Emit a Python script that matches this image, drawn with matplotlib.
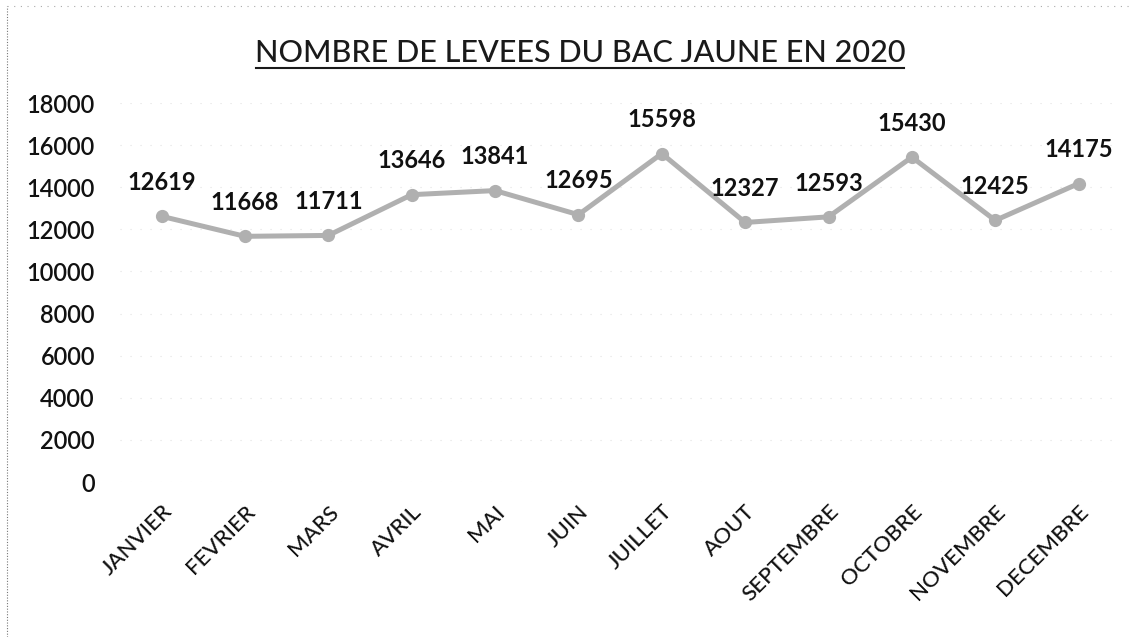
import matplotlib
matplotlib.use("Agg")
import matplotlib.pyplot as plt
from matplotlib.lines import Line2D

# Monthly pickups of the yellow bin in 2020
mois = ["JANVIER", "FEVRIER", "MARS", "AVRIL", "MAI", "JUIN", "JUILLET",
        "AOUT", "SEPTEMBRE", "OCTOBRE", "NOVEMBRE", "DECEMBRE"]
levees = [12619, 11668, 11711, 13646, 13841, 12695, 15598,
          12327, 12593, 15430, 12425, 14175]
y_ticks = [0, 2000, 4000, 6000, 8000, 10000, 12000, 14000, 16000, 18000]

plt.rcParams["font.family"] = ["Lato", "DejaVu Sans"]

fig = plt.figure(figsize=(11.42, 6.37), dpi=100)
ax = fig.add_axes([0.105, 0.2433, 0.876, 0.595])

x = list(range(len(mois)))
ax.plot(x, levees, color="#b0b0b0", linewidth=3.6, marker="o",
        markersize=8.5, markerfacecolor="#b0b0b0", markeredgecolor="#b0b0b0",
        zorder=3)

for xi, v in zip(x, levees):
    ax.annotate(f"{v}", (xi, v), xytext=(0, 16), textcoords="offset points",
                ha="center", va="bottom", fontsize=17, fontweight="bold",
                color="#111111", zorder=4)

ax.set_xlim(-0.5, len(mois) - 0.5)
ax.set_ylim(0, 18000)
ax.set_yticks(y_ticks)
ax.set_yticklabels([str(t) for t in y_ticks], fontsize=17,
                   fontweight="semibold", color="#111111")
ax.set_xticks(x)
ax.set_xticklabels(mois, rotation=45, ha="right", rotation_mode="anchor",
                   fontsize=16, fontweight="medium", color="#111111")
ax.tick_params(axis="both", length=0)
ax.tick_params(axis="y", pad=18)
ax.tick_params(axis="x", pad=14)

ax.yaxis.grid(True, color="#e2e2e2", linewidth=0.8, linestyle=(0, (1, 8)))
ax.set_axisbelow(True)
for s in ax.spines.values():
    s.set_visible(False)

fig.text(0.508, 0.895, "NOMBRE DE LEVEES DU BAC JAUNE EN 2020",
         ha="center", va="bottom", fontsize=22, fontweight="medium",
         color="#1a1a1a")
# underline beneath the title
fig.add_artist(Line2D([0.224, 0.792], [0.893, 0.893], color="#1a1a1a",
                      linewidth=1.5, transform=fig.transFigure))

# chart frame (top and left edges)
fig.add_artist(Line2D([0.006, 0.006], [0.0, 0.99], color="#777777",
                      linewidth=0.8, linestyle=(0, (1, 1.5)),
                      transform=fig.transFigure))
fig.add_artist(Line2D([0.006, 0.99], [0.99, 0.99], color="#aaaaaa",
                      linewidth=0.8, linestyle=(0, (1, 5)),
                      transform=fig.transFigure))

fig.savefig("out.png", dpi=100)
